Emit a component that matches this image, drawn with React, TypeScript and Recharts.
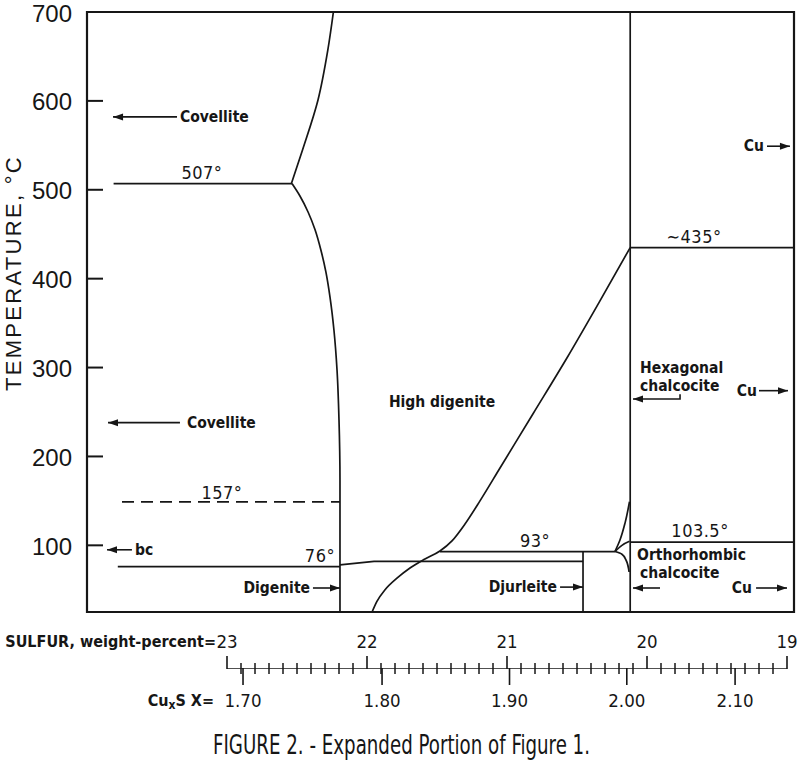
import React from 'react';
import { ComposedChart, Line, Scatter, XAxis, YAxis, ReferenceArea } from 'recharts';

const INK = '#161616';
const NARROW = "'DejaVu Sans Condensed', 'Liberation Sans Narrow', 'Arial Narrow', sans-serif";
const SANS = "'Liberation Sans', Arial, sans-serif";

// ---- axes ----
const X_DOMAIN: [number, number] = [18.95, 24]; // sulfur, weight-percent
const T_DOMAIN: [number, number] = [25, 700]; // temperature, °C
const TEMP_TICKS = [100, 200, 300, 400, 500, 600, 700];
const SULFUR_MAJOR = [23, 22, 21, 20, 19];
const SULFUR_MINOR = Array.from({ length: 39 }, (_, i) => Math.round((22.9 - i * 0.1) * 10) / 10).filter(
  (v) => !Number.isInteger(v)
);
const CUXS_LABELS = ['1.70', '1.80', '1.90', '2.00', '2.10'];
const CU_MASS = 63.546;
const S_MASS = 32.06;
const cuxsToSulfur = (x: number) => (100 * S_MASS) / (S_MASS + CU_MASS * x);
const CUXS_TICKS = CUXS_LABELS.map((l) => cuxsToSulfur(parseFloat(l)));
const SCALE_BAR = [{ wt: 23, v: 1 }, { wt: 19, v: 1 }];

// ---- phase boundaries (wt = sulfur wt-%, t = °C) ----
const covelliteUpper = [
  { wt: 22.54, t: 507 }, { wt: 22.46, t: 545 }, { wt: 22.35, t: 601 }, { wt: 22.28, t: 657 }, { wt: 22.24, t: 700 },
];
const digeniteSolvus = [
  { wt: 22.536, t: 507 }, { wt: 22.479, t: 493 }, { wt: 22.421, t: 475 }, { wt: 22.371, t: 455 },
  { wt: 22.329, t: 432 }, { wt: 22.293, t: 407 }, { wt: 22.264, t: 379 }, { wt: 22.236, t: 342 },
  { wt: 22.214, t: 297 }, { wt: 22.2, t: 241 }, { wt: 22.193, t: 173 }, { wt: 22.193, t: 25 },
];
const line507 = [{ wt: 23.81, t: 507 }, { wt: 22.536, t: 507 }];
const line157 = [{ wt: 23.75, t: 149 }, { wt: 22.193, t: 149 }];
const line76 = [{ wt: 23.78, t: 76 }, { wt: 22.193, t: 76 }];
const djurleiteTop = [{ wt: 22.193, t: 78 }, { wt: 21.95, t: 82 }, { wt: 20.457, t: 82 }];
const line93 = [{ wt: 21.479, t: 93 }, { wt: 20.229, t: 93 }];
const djurleiteRight = [{ wt: 20.457, t: 93 }, { wt: 20.457, t: 25 }];
const chalcociteVertical = [{ wt: 20.12, t: 25 }, { wt: 20.12, t: 700 }];
const line435 = [{ wt: 20.12, t: 435 }, { wt: 18.95, t: 435 }];
const line1035 = [{ wt: 20.12, t: 103.5 }, { wt: 18.95, t: 103.5 }];
const lensUpper = [{ wt: 20.229, t: 93 }, { wt: 20.193, t: 106 }, { wt: 20.157, t: 125 }, { wt: 20.125, t: 149 }];
const lensMiddle = [{ wt: 20.229, t: 93 }, { wt: 20.179, t: 100 }, { wt: 20.125, t: 104.5 }];
const lensLower = [{ wt: 20.229, t: 93 }, { wt: 20.179, t: 90 }, { wt: 20.15, t: 83.5 }, { wt: 20.128, t: 70 }];
const highDigeniteSolvus = [
  { wt: 21.964, t: 25 }, { wt: 21.929, t: 37 }, { wt: 21.871, t: 50 }, { wt: 21.786, t: 63 }, { wt: 21.693, t: 74.5 },
  { wt: 21.586, t: 84.6 }, { wt: 21.479, t: 93.6 }, { wt: 21.393, t: 105 }, { wt: 21.3, t: 124 }, { wt: 21.193, t: 150 },
  { wt: 21.05, t: 187 }, { wt: 20.814, t: 248 }, { wt: 20.571, t: 311 }, { wt: 20.336, t: 375 }, { wt: 20.12, t: 435 },
];

// ---- arrows (tail first, head last) ----
const arrowCovelliteTop = [{ wt: 23.357, t: 582 }, { wt: 23.814, t: 582, dir: 'left' }];
const arrowCovelliteLow = [{ wt: 23.336, t: 238 }, { wt: 23.85, t: 238, dir: 'left' }];
const arrowBc = [{ wt: 23.679, t: 95 }, { wt: 23.857, t: 95, dir: 'left' }];
const arrowDigenite = [{ wt: 22.386, t: 52 }, { wt: 22.193, t: 52, dir: 'right' }];
const arrowDjurleite = [{ wt: 20.621, t: 53 }, { wt: 20.457, t: 53, dir: 'right' }];
const arrowHexagonal = [{ wt: 19.764, t: 270 }, { wt: 19.764, t: 264.6 }, { wt: 20.1, t: 264.6, dir: 'left' }];
const arrowOrthorhombic = [{ wt: 19.907, t: 52 }, { wt: 20.1, t: 52, dir: 'left' }];
const arrowCuTop = [{ wt: 19.143, t: 549 }, { wt: 18.979, t: 549, dir: 'right' }];
const arrowCuMid = [{ wt: 19.2, t: 274 }, { wt: 18.993, t: 274, dir: 'right' }];
const arrowCuLow = [{ wt: 19.221, t: 52 }, { wt: 19.0, t: 52, dir: 'right' }];

// ---- text labels ----
const PHASE_LABELS = [
  { wt: 23.336, t: 582, text: 'Covellite', anchor: 'start' },
  { wt: 23.286, t: 238, text: 'Covellite', anchor: 'start' },
  { wt: 23.657, t: 95, text: 'bc', anchor: 'start' },
  { wt: 22.407, t: 52, text: 'Digenite', anchor: 'end' },
  { wt: 21.464, t: 261, text: 'High digenite', anchor: 'middle' },
  { wt: 20.643, t: 53, text: 'Djurleite', anchor: 'end' },
  { wt: 20.05, t: 300, text: 'Hexagonal', anchor: 'start' },
  { wt: 20.05, t: 279, text: 'chalcocite', anchor: 'start' },
  { wt: 20.071, t: 89, text: 'Orthorhombic', anchor: 'start' },
  { wt: 20.05, t: 69, text: 'chalcocite', anchor: 'start' },
  { wt: 19.164, t: 549, text: 'Cu', anchor: 'end' },
  { wt: 19.214, t: 274, text: 'Cu', anchor: 'end' },
  { wt: 19.25, t: 52, text: 'Cu', anchor: 'end' },
];
const TEMP_LABELS = [
  { wt: 23.179, t: 519, text: '507°' },
  { wt: 23.036, t: 159, text: '157°' },
  { wt: 22.336, t: 89, text: '76°' },
  { wt: 20.8, t: 106, text: '93°' },
  { wt: 19.664, t: 447, text: '∼435°' },
  { wt: 19.621, t: 117, text: '103.5°' },
];

const BOUNDARIES: { data: { wt: number; t: number }[]; type: any; dash?: string }[] = [
  { data: covelliteUpper, type: 'monotoneY' },
  { data: digeniteSolvus, type: 'monotoneY' },
  { data: line507, type: 'linear' },
  { data: line157, type: 'linear', dash: '12 7' },
  { data: line76, type: 'linear' },
  { data: djurleiteTop, type: 'linear' },
  { data: line93, type: 'linear' },
  { data: djurleiteRight, type: 'linear' },
  { data: chalcociteVertical, type: 'linear' },
  { data: line435, type: 'linear' },
  { data: line1035, type: 'linear' },
  { data: lensUpper, type: 'monotoneY' },
  { data: lensMiddle, type: 'monotoneX' },
  { data: lensLower, type: 'monotoneY' },
  { data: highDigeniteSolvus, type: 'monotoneX' },
];
const ARROWS = [
  arrowCovelliteTop, arrowCovelliteLow, arrowBc, arrowDigenite, arrowDjurleite, arrowHexagonal,
  arrowOrthorhombic, arrowCuTop, arrowCuMid, arrowCuLow,
];

const TempTick = (props: any) => {
  const { x, y, payload } = props;
  return (
    <g>
      <line x1={x} x2={x + 16} y1={y} y2={y} stroke={INK} strokeWidth={2} />
      <text x={x - 15} y={y + 1} textAnchor="end" dominantBaseline="central" fontFamily={SANS} fontSize={24} fill={INK}>
        {payload.value}
      </text>
    </g>
  );
};

const renderTempLabel = (props: any) => {
  const vb = props && props.viewBox ? props.viewBox : { x: 0, y: 12 };
  const cx = vb.x + 13;
  const cy = vb.y + 261;
  return (
    <text
      x={cx}
      y={cy}
      transform={`rotate(-90 ${cx} ${cy})`}
      textAnchor="middle"
      dominantBaseline="central"
      fontFamily={SANS}
      fontSize={22}
      letterSpacing={2.3}
      fill={INK}
    >
      TEMPERATURE, °C
    </text>
  );
};

const renderArrowHead = (props: any) => {
  const { cx, cy, payload, index } = props;
  if (!payload || !payload.dir) return <g key={`n${index}`} />;
  const d = payload.dir === 'left' ? 1 : -1;
  return (
    <polygon
      key={`h${index}`}
      points={`${cx},${cy} ${cx + d * 10},${cy - 3.5} ${cx + d * 10},${cy + 3.5}`}
      fill={INK}
    />
  );
};

const renderPhaseLabel = (props: any) => {
  const { cx, cy, payload } = props;
  return (
    <text
      x={cx}
      y={cy}
      textAnchor={payload.anchor}
      dominantBaseline="central"
      fontFamily={NARROW}
      fontWeight="bold"
      fontSize={15.5}
      fill={INK}
    >
      {payload.text}
    </text>
  );
};

const renderTempText = (props: any) => {
  const { cx, cy, payload } = props;
  return (
    <text
      x={cx}
      y={cy}
      textAnchor="middle"
      dominantBaseline="central"
      fontFamily={NARROW}
      fontSize={18}
      letterSpacing={0.5}
      fill={INK}
    >
      {payload.text}
    </text>
  );
};

const ScaleTick = (props: any) => {
  const { x, y, payload } = props;
  const v = payload.value;
  const ci = CUXS_TICKS.indexOf(v);
  if (ci >= 0) {
    return (
      <g>
        <line x1={x} x2={x} y1={y} y2={y + 17} stroke={INK} strokeWidth={1.6} />
        <text x={x} y={y + 32} textAnchor="middle" dominantBaseline="central" fontFamily={NARROW} fontSize={18.5} fill={INK}>
          {CUXS_LABELS[ci]}
        </text>
        {ci === 0 ? (
          <text
            x={x - 29}
            y={y + 32}
            textAnchor="end"
            dominantBaseline="central"
            fontFamily={NARROW}
            fontWeight="bold"
            fontSize={16}
            fill={INK}
          >
            Cu
            <tspan dy={5} fontSize={12}>x</tspan>
            <tspan dy={-5}>S  X=</tspan>
          </text>
        ) : null}
      </g>
    );
  }
  if (!SULFUR_MAJOR.includes(v)) {
    return <line x1={x} x2={x} y1={y - 5} y2={y + 6} stroke={INK} strokeWidth={1.5} />;
  }
  return (
    <g>
      <line x1={x} x2={x} y1={y - 12} y2={y + 1} stroke={INK} strokeWidth={1.6} />
      <text x={x} y={y - 27} textAnchor="middle" dominantBaseline="central" fontFamily={NARROW} fontSize={18.5} fill={INK}>
        {v}
      </text>
      {v === 23 ? (
        <text
          x={x - 11}
          y={y - 27}
          textAnchor="end"
          dominantBaseline="central"
          fontFamily={NARROW}
          fontWeight="bold"
          fontSize={16}
          fill={INK}
        >
          SULFUR, weight-percent=
        </text>
      ) : null}
    </g>
  );
};

export default function App() {
  return (
    <div style={{ position: 'absolute', left: 0, top: 0, width: 800, height: 765, background: '#fff', overflow: 'hidden' }}>
      <div style={{ position: 'absolute', left: 0, top: 0 }}>
        <ComposedChart width={800} height={620} margin={{ top: 12, right: 6, bottom: 0, left: 0 }}>
          <XAxis
            type="number"
            dataKey="wt"
            domain={X_DOMAIN}
            reversed
            allowDataOverflow
            height={8}
            tick={false}
            tickLine={false}
            axisLine={false}
          />
          <YAxis
            type="number"
            dataKey="t"
            domain={T_DOMAIN}
            allowDataOverflow
            ticks={TEMP_TICKS}
            interval={0}
            width={87}
            tickSize={0}
            tickMargin={0}
            tickLine={false}
            axisLine={false}
            tick={TempTick}
            label={renderTempLabel}
          />
          <ReferenceArea
            x1={X_DOMAIN[0]}
            x2={X_DOMAIN[1]}
            y1={T_DOMAIN[0]}
            y2={T_DOMAIN[1]}
            fill="none"
            stroke={INK}
            strokeWidth={2.2}
          />
          {BOUNDARIES.map((b, i) => (
            <Line
              key={`b${i}`}
              data={b.data}
              dataKey="t"
              type={b.type}
              stroke={INK}
              strokeWidth={1.7}
              strokeDasharray={b.dash}
              dot={false}
              activeDot={false}
              isAnimationActive={false}
            />
          ))}
          {ARROWS.map((a, i) => (
            <Line
              key={`a${i}`}
              data={a}
              dataKey="t"
              type="linear"
              stroke={INK}
              strokeWidth={1.6}
              dot={renderArrowHead}
              activeDot={false}
              isAnimationActive={false}
            />
          ))}
          <Scatter data={PHASE_LABELS} dataKey="t" shape={renderPhaseLabel} isAnimationActive={false} />
          <Scatter data={TEMP_LABELS} dataKey="t" shape={renderTempText} isAnimationActive={false} />
        </ComposedChart>
      </div>
      <div style={{ position: 'absolute', left: 0, top: 612 }}>
        <ComposedChart width={800} height={153} margin={{ top: 0, right: 13, bottom: 96, left: 227 }}>
          <XAxis
            orientation="top"
            type="number"
            dataKey="wt"
            domain={[19, 23]}
            reversed
            allowDataOverflow
            ticks={[...SULFUR_MAJOR, ...SULFUR_MINOR, ...CUXS_TICKS]}
            interval={0}
            height={56}
            tickSize={0}
            tickMargin={0}
            tickLine={false}
            axisLine={false}
            tick={ScaleTick}
          />
          <YAxis hide type="number" dataKey="v" domain={[0, 1]} allowDataOverflow />
          <Line
            data={SCALE_BAR}
            dataKey="v"
            type="linear"
            stroke={INK}
            strokeWidth={1.7}
            dot={false}
            activeDot={false}
            isAnimationActive={false}
          />
        </ComposedChart>
      </div>
      <svg width={800} height={40} style={{ position: 'absolute', left: 0, top: 725 }}>
        <text
          x={213}
          y={29}
          fontFamily={NARROW}
          fontSize={27}
          textLength={377}
          lengthAdjust="spacingAndGlyphs"
          fill={INK}
        >
          FIGURE 2. - Expanded Portion of Figure 1.
        </text>
      </svg>
    </div>
  );
}
